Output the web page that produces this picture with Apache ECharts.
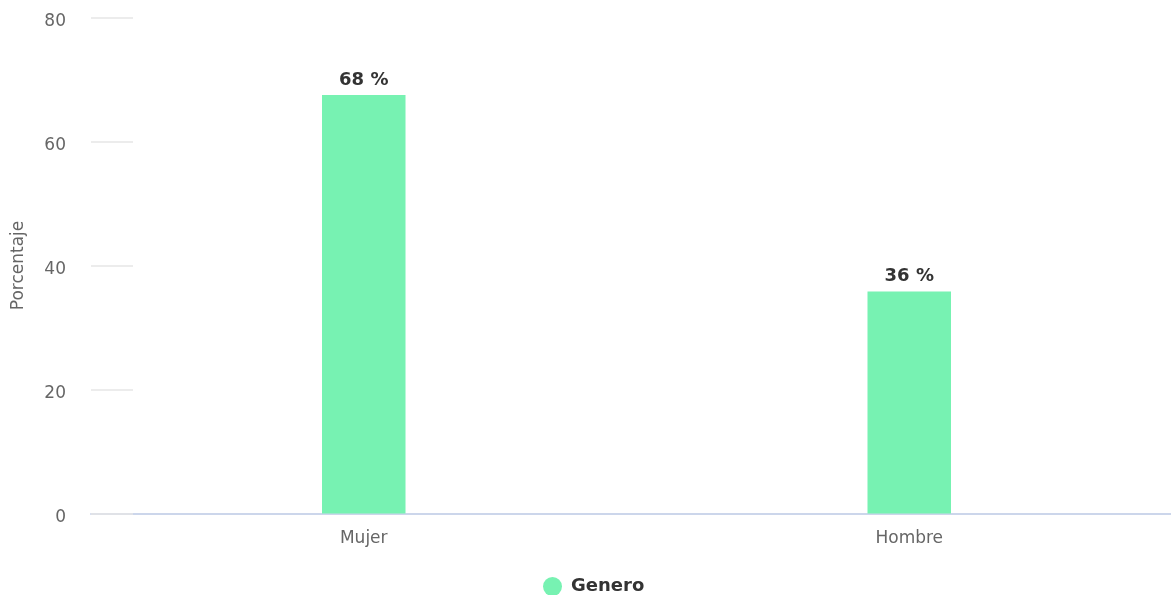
<!DOCTYPE html>
<html>
<head>
<meta charset="utf-8">
<script src="https://cdn.jsdelivr.net/npm/echarts@6/dist/echarts.min.js"></script>
<style>html,body{margin:0;padding:0;background:#fff;overflow:hidden;width:1171px;height:595px;}#c{width:1182px;height:595px;}</style>
</head>
<body>
<div id="c"></div>
<script>
var categories = ['Mujer', 'Hombre'];
var values = [67.5, 35.8];
var seriesName = 'Genero';
var yTicks = [0, 20, 40, 60, 80];

var chart = echarts.init(document.getElementById('c'));
chart.setOption({
  animation: false,
  textStyle: { fontFamily: 'DejaVu Sans' },
  grid: { left: 91, right: 0, top: 17.5, bottom: 81.5, containLabel: false },
  legend: {
    top: 572, left: 538,
    icon: 'circle', itemWidth: 19, itemHeight: 19, itemGap: 20,
    textStyle: { fontSize: 18, fontWeight: 'bold', color: '#333', fontFamily: 'DejaVu Sans', padding: [0, 0, 0, 4] },
    data: [seriesName]
  },
  xAxis: {
    type: 'category',
    data: categories,
    axisLine: { show: true, lineStyle: { color: '#ccd6eb', width: 2 } },
    axisTick: { show: false },
    axisLabel: { color: '#666', fontSize: 17, margin: 17, fontFamily: 'DejaVu Sans' },
    splitLine: { show: false }
  },
  yAxis: {
    type: 'value',
    min: yTicks[0], max: yTicks[yTicks.length - 1], interval: 20,
    name: 'Porcentaje',
    nameLocation: 'middle',
    nameGap: 64,
    nameTextStyle: { color: '#666', fontSize: 17, fontFamily: 'DejaVu Sans' },
    axisLine: { show: false },
    axisTick: { show: true, inside: true, length: 42, lineStyle: { color: '#e6e6e6', width: 1.5 } },
    axisLabel: {
      color: '#666', fontSize: 17, margin: 25, fontFamily: 'DejaVu Sans',
      formatter: '{t|{value}}',
      rich: { t: { color: '#666', fontSize: 17, fontFamily: 'DejaVu Sans', padding: [8, 0, 0, 0] } }
    },
    splitLine: { show: false }
  },
  series: [{
    name: seriesName,
    type: 'bar',
    data: values,
    barWidth: 83.5,
    itemStyle: { color: '#77f2b2' },
    label: {
      show: true, position: 'top', distance: 6,
      formatter: function (p) { return Math.round(p.value) + ' %'; },
      fontWeight: 'bold', fontSize: 18, color: '#333', fontFamily: 'DejaVu Sans'
    }
  }]
});
</script>
</body>
</html>
